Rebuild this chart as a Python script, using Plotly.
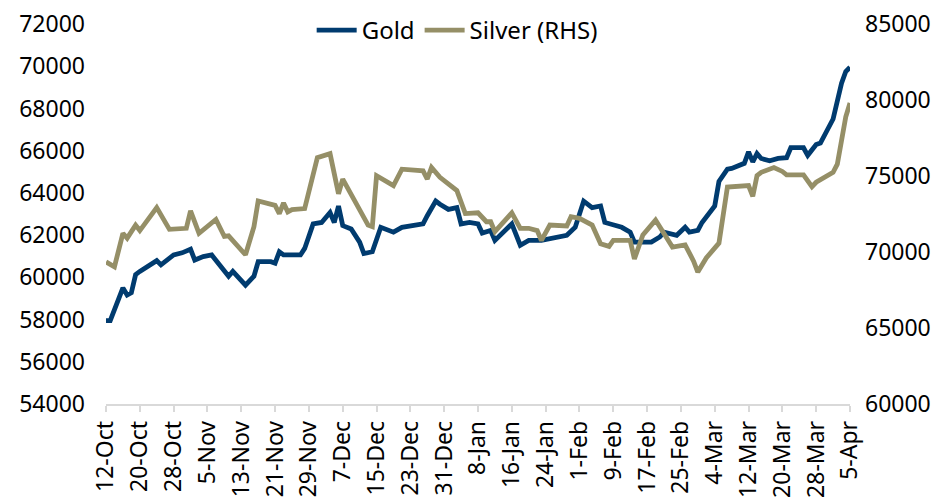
import plotly.graph_objects as go

gold_dates = [
    "2023-10-12", "2023-10-13", "2023-10-16", "2023-10-17", "2023-10-18", "2023-10-19", "2023-10-20",
    "2023-10-24", "2023-10-25", "2023-10-27", "2023-10-28", "2023-10-30", "2023-11-01", "2023-11-02",
    "2023-11-04", "2023-11-06", "2023-11-10", "2023-11-11", "2023-11-14", "2023-11-16", "2023-11-17",
    "2023-11-20", "2023-11-21", "2023-11-22", "2023-11-23", "2023-11-27", "2023-11-28", "2023-11-30",
    "2023-12-02", "2023-12-04", "2023-12-05", "2023-12-06", "2023-12-07", "2023-12-09", "2023-12-11",
    "2023-12-12", "2023-12-14", "2023-12-16", "2023-12-19", "2023-12-21", "2023-12-23", "2023-12-26",
    "2023-12-27", "2023-12-29", "2023-12-30", "2024-01-01", "2024-01-03", "2024-01-04", "2024-01-06",
    "2024-01-08", "2024-01-09", "2024-01-11", "2024-01-12", "2024-01-16", "2024-01-18", "2024-01-20",
    "2024-01-23", "2024-01-29", "2024-01-31", "2024-02-02", "2024-02-04", "2024-02-06", "2024-02-07",
    "2024-02-11", "2024-02-13", "2024-02-14", "2024-02-18", "2024-02-20", "2024-02-21", "2024-02-23",
    "2024-02-24", "2024-02-26", "2024-02-27", "2024-02-29", "2024-03-01", "2024-03-04", "2024-03-05",
    "2024-03-07", "2024-03-08", "2024-03-11", "2024-03-12", "2024-03-13", "2024-03-14", "2024-03-15",
    "2024-03-17", "2024-03-19", "2024-03-21", "2024-03-22", "2024-03-25", "2024-03-26", "2024-03-28",
    "2024-03-29", "2024-04-01", "2024-04-03", "2024-04-04", "2024-04-05",
]
gold_values = [
    57950, 57950, 59500, 59160, 59270, 60130, 60280,
    60790, 60590, 60930, 61060, 61160, 61330, 60820,
    60980, 61060, 60050, 60280, 59630, 60050, 60740,
    60740, 60670, 61210, 61060, 61060, 61370, 62530,
    62600, 63070, 62600, 63380, 62450, 62290, 61670,
    61130, 61210, 62370, 62140, 62370, 62450, 62530,
    62920, 63610, 63460, 63220, 63300, 62530, 62600,
    62530, 62100, 62220, 61750, 62530, 61520, 61750,
    61750, 61990, 62370, 63610, 63300, 63380, 62600,
    62370, 62140, 61670, 61670, 61910, 62140, 62060,
    61990, 62370, 62140, 62220, 62600, 63380, 64540,
    65120, 65160, 65400, 65940, 65470, 65860, 65630,
    65520, 65630, 65670, 66140, 66140, 65780, 66290,
    66360, 67500, 69200, 69750, 69950,
]

silver_dates = [
    "2023-10-12", "2023-10-14", "2023-10-16", "2023-10-17", "2023-10-19", "2023-10-20", "2023-10-24",
    "2023-10-26", "2023-10-27", "2023-10-31", "2023-11-01", "2023-11-03", "2023-11-07", "2023-11-09",
    "2023-11-10", "2023-11-14", "2023-11-16", "2023-11-17", "2023-11-21", "2023-11-22", "2023-11-23",
    "2023-11-24", "2023-11-25", "2023-11-28", "2023-11-29", "2023-11-30", "2023-12-01", "2023-12-04",
    "2023-12-06", "2023-12-07", "2023-12-13", "2023-12-14", "2023-12-15", "2023-12-19", "2023-12-21",
    "2023-12-26", "2023-12-27", "2023-12-28", "2023-12-30", "2024-01-03", "2024-01-05", "2024-01-08",
    "2024-01-10", "2024-01-11", "2024-01-12", "2024-01-16", "2024-01-18", "2024-01-20", "2024-01-22",
    "2024-01-23", "2024-01-25", "2024-01-29", "2024-01-30", "2024-02-01", "2024-02-04", "2024-02-06",
    "2024-02-08", "2024-02-09", "2024-02-13", "2024-02-14", "2024-02-16", "2024-02-19", "2024-02-21",
    "2024-02-23", "2024-02-26", "2024-02-28", "2024-02-29", "2024-03-02", "2024-03-05", "2024-03-07",
    "2024-03-12", "2024-03-13", "2024-03-14", "2024-03-15", "2024-03-18", "2024-03-20", "2024-03-21",
    "2024-03-25", "2024-03-27", "2024-03-28", "2024-04-01", "2024-04-02", "2024-04-04", "2024-04-05",
]
silver_values = [
    69350, 69020, 71230, 70910, 71770, 71410, 72920,
    71880, 71490, 71560, 72710, 71230, 72140, 71020,
    71060, 69820, 71670, 73360, 73070, 72530, 73230,
    72640, 72790, 72860, 73940, 75020, 76210, 76470,
    73830, 74800, 71770, 71670, 75020, 74370, 75450,
    75340, 74800, 75560, 74910, 74040, 72530, 72580,
    71990, 71990, 71340, 72580, 71560, 71560, 71410,
    70760, 71770, 71710, 72320, 72210, 71770, 70540,
    70370, 70760, 70760, 69540, 71120, 72100, 71230,
    70320, 70470, 69400, 68680, 69610, 70580, 74270,
    74370, 73660, 75020, 75240, 75560, 75300, 75080,
    75080, 74300, 74590, 75240, 75780, 78900, 79800,
]

tick_dates = [
    "2023-10-12", "2023-10-20", "2023-10-28", "2023-11-05", "2023-11-13", "2023-11-21",
    "2023-11-29", "2023-12-07", "2023-12-15", "2023-12-23", "2023-12-31", "2024-01-08",
    "2024-01-16", "2024-01-24", "2024-02-01", "2024-02-09", "2024-02-17", "2024-02-25",
    "2024-03-04", "2024-03-12", "2024-03-20", "2024-03-28", "2024-04-05",
]
tick_labels = [
    "12-Oct", "20-Oct", "28-Oct", "5-Nov", "13-Nov", "21-Nov",
    "29-Nov", "7-Dec", "15-Dec", "23-Dec", "31-Dec", "8-Jan",
    "16-Jan", "24-Jan", "1-Feb", "9-Feb", "17-Feb", "25-Feb",
    "4-Mar", "12-Mar", "20-Mar", "28-Mar", "5-Apr",
]

GOLD_COLOR = "#003B6F"
SILVER_COLOR = "#958F67"
FONT = "Noto Sans"

fig = go.Figure()
fig.add_trace(go.Scatter(
    x=gold_dates, y=gold_values, name="Gold", mode="lines",
    line=dict(color=GOLD_COLOR, width=4.8), yaxis="y",
))
fig.add_trace(go.Scatter(
    x=silver_dates, y=silver_values, name="Silver (RHS)", mode="lines",
    line=dict(color=SILVER_COLOR, width=4.8), yaxis="y2",
))

fig.update_layout(
    width=944, height=496,
    margin=dict(l=98, r=102, t=16, b=100, autoexpand=False),
    paper_bgcolor="white", plot_bgcolor="white",
    font=dict(family=FONT, size=23, color="#000000"),
    showlegend=True,
    legend=dict(
        orientation="h", x=0.472, xanchor="center",
        yref="container", y=1.0, yanchor="top",
        font=dict(family=FONT, size=24, color="#000000"),
        bgcolor="rgba(0,0,0,0)", itemwidth=40, tracegroupgap=0,
    ),
    xaxis=dict(
        type="date",
        range=["2023-10-12", "2024-04-05"],
        tickmode="array", tickvals=tick_dates, ticktext=tick_labels,
        tickangle=-90, automargin=False,
        showgrid=False, zeroline=False,
        showline=True, linecolor="#D9D9D9", linewidth=1.5,
        ticks="outside", ticklen=6, tickcolor="#D9D9D9", tickwidth=1.5,
        tickfont=dict(family=FONT, size=23, color="#000000"),
    ),
    yaxis=dict(
        range=[54000, 72000], dtick=2000, tick0=54000, tickformat="d",
        showgrid=False, zeroline=False, showline=False, automargin=False,
        ticks="", ticklabelstandoff=20, ticklabeloverflow="allow",
        tickfont=dict(family=FONT, size=23, color="#000000"),
    ),
    yaxis2=dict(
        range=[60000, 85000], dtick=5000, tick0=60000, tickformat="d",
        overlaying="y", side="right", automargin=False,
        showgrid=False, zeroline=False, showline=False,
        ticks="", ticklabelstandoff=14, ticklabeloverflow="allow",
        tickfont=dict(family=FONT, size=23, color="#000000"),
    ),
)

fig.write_html("out.html")
